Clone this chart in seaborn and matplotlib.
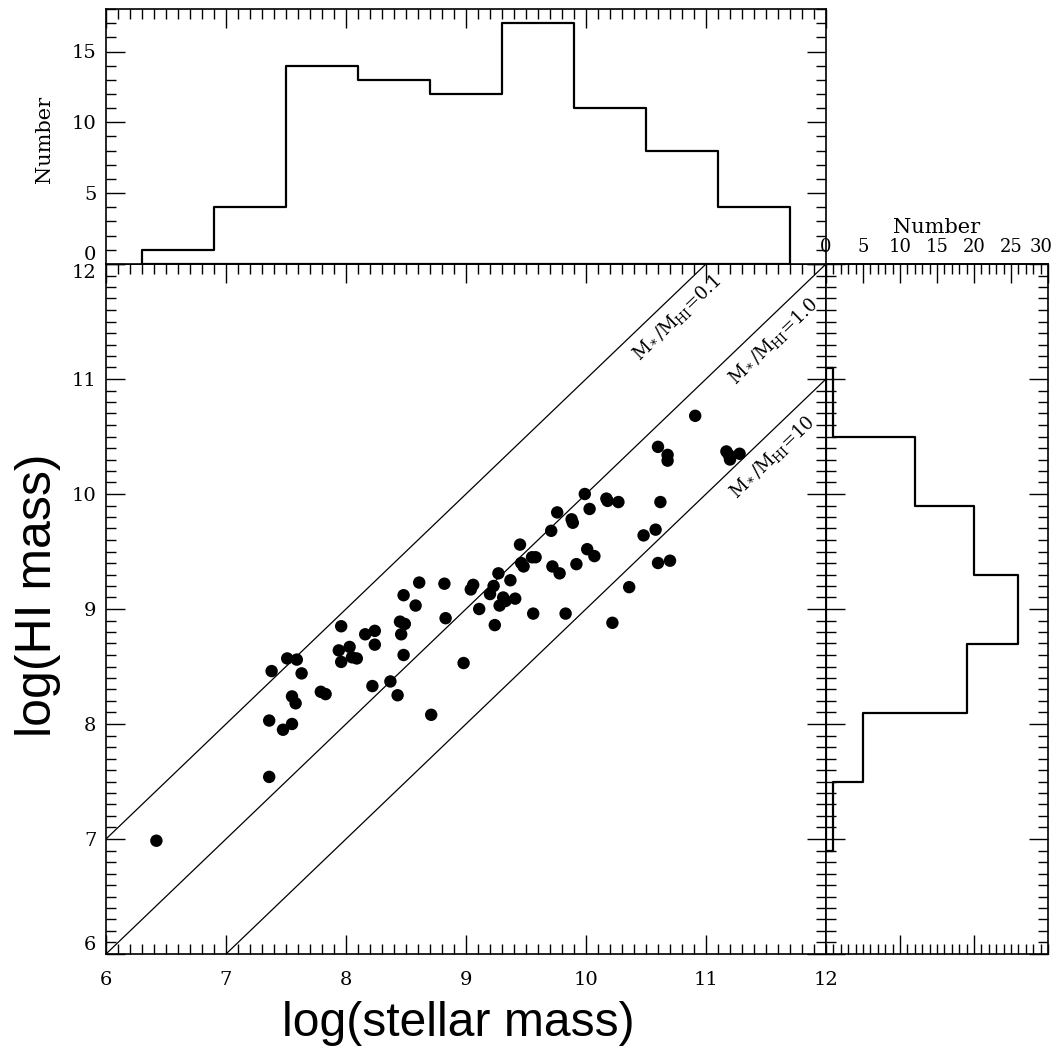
import numpy as np
import matplotlib
matplotlib.use("Agg")
import matplotlib.pyplot as plt
import matplotlib.transforms as mtransforms
import seaborn as sns
from matplotlib.ticker import MultipleLocator, FixedLocator, FixedFormatter

# log stellar mass and log HI mass of the sample galaxies
stellar_mass = [
    6.42, 7.36, 7.36, 7.475, 7.55, 7.55, 7.58, 7.38, 7.51, 7.59,
    7.63, 7.79, 7.83, 7.96, 7.94, 7.96, 8.03, 8.09, 8.05, 8.16,
    8.24, 8.24, 8.22, 8.37, 8.43, 8.71, 8.48, 8.61, 8.58, 8.45,
    8.49, 8.46, 8.48, 8.82, 8.83, 8.98, 9.06, 9.04, 9.11, 9.23,
    9.20, 9.27, 9.28, 9.24, 9.31, 9.33, 9.37, 9.41, 9.56, 9.83,
    10.22, 10.36, 9.45, 9.46, 9.48, 9.55, 9.58, 9.72, 9.78, 9.92,
    10.01, 10.07, 9.71, 9.76, 9.88, 9.89, 9.99, 10.03, 10.17, 10.18,
    10.27, 10.91, 10.60, 10.68, 10.68, 11.17, 11.19, 11.20, 11.28, 10.62,
    10.48, 10.58, 10.60, 10.70,
]
hi_mass = [
    6.985, 7.54, 8.03, 7.95, 8.00, 8.24, 8.18, 8.46, 8.57, 8.56,
    8.44, 8.28, 8.26, 8.85, 8.64, 8.54, 8.67, 8.57, 8.58, 8.78,
    8.81, 8.69, 8.33, 8.37, 8.25, 8.08, 9.12, 9.23, 9.03, 8.89,
    8.87, 8.78, 8.60, 9.22, 8.92, 8.53, 9.21, 9.17, 9.00, 9.20,
    9.13, 9.31, 9.03, 8.86, 9.10, 9.07, 9.25, 9.09, 8.96, 8.96,
    8.88, 9.19, 9.56, 9.40, 9.37, 9.45, 9.45, 9.37, 9.31, 9.39,
    9.52, 9.46, 9.68, 9.84, 9.78, 9.75, 10.00, 9.87, 9.96, 9.94,
    9.93, 10.68, 10.41, 10.34, 10.29, 10.37, 10.34, 10.30, 10.35, 9.93,
    9.64, 9.69, 9.40, 9.42,
]

stellar_bins = [6.3, 6.9, 7.5, 8.1, 8.7, 9.3, 9.9, 10.5, 11.1, 11.7]
hi_bins = [6.9, 7.5, 8.1, 8.7, 9.3, 9.9, 10.5, 11.1]
count_ticks = [0, 5, 10, 15, 20, 25, 30]

# constant stellar-to-HI mass ratios drawn as guide lines
mass_ratios = [0.1, 1.0, 10.0]
ratio_labels = ["0.1", "1.0", "10"]
label_x = [10.76, 11.56, 11.55]

sns.set_theme(style="ticks")
serif = ["DejaVu Serif"]
plt.rcParams["font.family"] = serif
plt.rcParams["mathtext.fontset"] = "dejavuserif"
plt.rcParams["axes.linewidth"] = 1.2
plt.rcParams["axes.edgecolor"] = "black"
plt.rcParams["text.color"] = "black"
plt.rcParams["axes.labelcolor"] = "black"
plt.rcParams["xtick.color"] = "black"
plt.rcParams["ytick.color"] = "black"

W, H = 1062, 1052
fig = plt.figure(figsize=(W / 100, H / 100), dpi=100)
ax = fig.add_axes([106 / W, 1 - 954 / H, 720 / W, 690 / H])
ax_top = fig.add_axes([106 / W, 1 - 264 / H, 720 / W, 255 / H])
ax_r = fig.add_axes([826 / W, 1 - 954 / H, 222 / W, 690 / H])

tick_font = 14

# ---- main scatter panel ----
sns.scatterplot(x=stellar_mass, y=hi_mass, ax=ax, color="black", s=80,
                edgecolor="none", linewidth=0, zorder=3)
for r, lab, lx in zip(mass_ratios, ratio_labels, label_x):
    off = np.log10(r)
    ax.axline((6, 6 - off), slope=1, color="black", lw=0.9, zorder=2)
    ax.text(lx, lx - off - 0.23, r"M$_*$/M$_{\rm HI}$=" + lab,
            rotation=43.8, rotation_mode="anchor", ha="center", va="center",
            fontsize=13, family=serif)
ax.set_xlim(6, 12)
ax.set_ylim(6, 12)
ax.xaxis.set_major_locator(MultipleLocator(1))
ax.xaxis.set_minor_locator(MultipleLocator(0.1))
ax.yaxis.set_major_locator(MultipleLocator(1))
ax.yaxis.set_minor_locator(MultipleLocator(0.1))
ax.tick_params(which="both", direction="in", top=True, right=True,
               width=1, labelsize=tick_font)
ax.tick_params(which="major", length=14)
ax.tick_params(which="minor", length=7)
ax.tick_params(axis="x", pad=12)
ax.tick_params(axis="y", pad=7)
ax.set_xlabel("log(stellar mass)", fontsize=34.6, family="Liberation Sans")
ax.set_ylabel("log(HI mass)", fontsize=36, family="Liberation Sans")
ax.xaxis.set_label_coords(0.489, -0.068)
ax.yaxis.set_label_coords(-0.0625, 0.52)

# ---- stellar mass histogram (top) ----
sns.histplot(x=stellar_mass, bins=stellar_bins, ax=ax_top, element="step",
             fill=True, color="black", linewidth=1.6)
for coll in ax_top.collections:
    coll.set_facecolor("none")
    coll.set_edgecolor("black")
    coll.set_linewidth(1.6)
ax_top.set_xlim(6, 12)
ax_top.set_ylim(0, 18)
ax_top.xaxis.set_major_locator(MultipleLocator(1))
ax_top.xaxis.set_minor_locator(MultipleLocator(0.1))
ax_top.yaxis.set_major_locator(MultipleLocator(5))
ax_top.yaxis.set_minor_locator(MultipleLocator(1))
ax_top.tick_params(which="both", direction="in", width=1,
                   top=True, bottom=False, labelbottom=False, right=True,
                   labelsize=tick_font)
ax_top.tick_params(which="major", length=14)
ax_top.tick_params(which="minor", length=7)
ax_top.tick_params(axis="y", pad=7)
ax_top.set_xlabel("")
ax_top.set_ylabel("Number", fontsize=15)
ax_top.yaxis.set_label_coords(-0.072, 0.49)

# ---- HI mass histogram (right) ----
sns.histplot(y=hi_mass, bins=hi_bins, ax=ax_r, element="step",
             fill=True, color="black", linewidth=1.6)
for coll in ax_r.collections:
    coll.set_facecolor("none")
    coll.set_edgecolor("black")
    coll.set_linewidth(1.6)
ax_r.set_xlim(0, 30)
ax_r.set_ylim(6, 12)
ax_r.xaxis.set_major_locator(FixedLocator([10, 20]))
ax_r.xaxis.set_minor_locator(MultipleLocator(1))
ax_r.yaxis.set_major_locator(MultipleLocator(1))
ax_r.yaxis.set_minor_locator(MultipleLocator(0.1))
ax_r.tick_params(which="both", direction="in", width=1,
                 right=True, labelbottom=False, labelleft=False)
ax_r.tick_params(which="major", length=14)
ax_r.tick_params(which="minor", length=7)
ax_r.set_xlabel("")
ax_r.set_ylabel("")

# count axis along the top of the right panel; the last label sits just
# inside the figure edge
sec = ax_r.secondary_xaxis("top")
sec.xaxis.set_major_locator(FixedLocator(count_ticks))
sec.xaxis.set_major_formatter(
    FixedFormatter([str(v) for v in count_ticks[:-1]] + [""]))
sec.xaxis.set_minor_locator(MultipleLocator(1))
sec.tick_params(which="both", direction="in", width=1,
                labelsize=13, pad=6)
sec.tick_params(which="major", length=14)
sec.tick_params(which="minor", length=7)
sec.set_xlabel("Number", fontsize=15, labelpad=3)
edge_tr = mtransforms.blended_transform_factory(ax_r.transData, ax_r.transAxes)
ax_r.text(count_ticks[-1], 1.0, str(count_ticks[-1]), transform=edge_tr
          + mtransforms.ScaledTranslation(-7 / 100, 7.5 / 100,
                                          fig.dpi_scale_trans),
          ha="center", va="bottom", fontsize=13, family=serif)

# keep the shared-corner labels apart, as the stacked panels meet at y=12
fig.canvas.draw()
for lab in ax_top.get_yticklabels():
    if lab.get_text() in ("0", "$\\mathdefault{0}$"):
        lab.set_va("bottom")
for lab in ax.get_yticklabels():
    if lab.get_text() in ("12", "$\\mathdefault{12}$"):
        lab.set_va("top")
    if lab.get_text() in ("6", "$\\mathdefault{6}$"):
        lab.set_va("bottom")

fig.savefig("out.png", dpi=100, facecolor="white")
